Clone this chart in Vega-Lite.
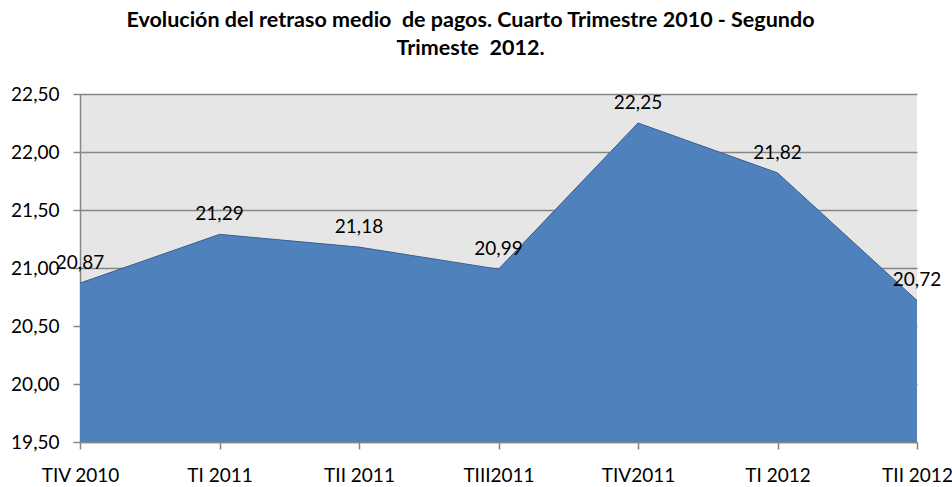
{
  "$schema": "https://vega.github.io/schema/vega-lite/v6.json",
  "width": 837,
  "height": 348,
  "autosize": "none",
  "padding": {"left": 80, "top": 94, "right": 35, "bottom": 45},
  "background": "white",
  "title": {
    "text": ["Evolución del retraso medio \u00a0de pagos. Cuarto Trimestre 2010 - Segundo", "Trimeste \u00a02012."],
    "font": "Lato",
    "fontSize": 21.5,
    "fontWeight": "bold",
    "color": "#000000",
    "anchor": "middle",
    "dx": -28,
    "offset": 26,
    "lineHeight": 28
  },
  "config": {
    "locale": {"number": {"decimal": ",", "thousands": ".", "grouping": [3], "currency": ["", " €"]}},
    "view": {"fill": "#e6e6e6", "stroke": null},
    "font": "Lato"
  },
  "data": {
    "values": [
      {"periodo": "TIV 2010", "retraso": 20.87},
      {"periodo": "TI 2011", "retraso": 21.29},
      {"periodo": "TII 2011", "retraso": 21.18},
      {"periodo": "TIII2011", "retraso": 20.99},
      {"periodo": "TIV2011", "retraso": 22.25},
      {"periodo": "TI 2012", "retraso": 21.82},
      {"periodo": "TII 2012", "retraso": 20.72}
    ]
  },
  "encoding": {
    "x": {
      "field": "periodo",
      "type": "ordinal",
      "sort": null,
      "scale": {"type": "point", "padding": 0},
      "axis": {
        "title": null,
        "labelAngle": 0,
        "labelFont": "Lato",
        "labelFontSize": 19,
        "labelColor": "#000000",
        "labelPadding": 17,
        "tickSize": 7,
        "tickColor": "#868686",
        "domainColor": "#868686",
        "domainWidth": 1.5,
        "tickWidth": 1.5,
        "grid": false
      }
    },
    "y": {
      "field": "retraso",
      "type": "quantitative",
      "scale": {"domain": [19.5, 22.5], "zero": false, "nice": false},
      "axis": {
        "title": null,
        "values": [19.5, 20, 20.5, 21, 21.5, 22, 22.5],
        "format": ".2f",
        "labelFont": "Lato",
        "labelFontSize": 19,
        "labelColor": "#000000",
        "labelPadding": 14,
        "tickSize": 7,
        "tickColor": "#868686",
        "tickWidth": 1.5,
        "domainColor": "#868686",
        "domainWidth": 1.5,
        "grid": true,
        "gridColor": "#868686",
        "gridWidth": 1.5
      }
    }
  },
  "layer": [
    {
      "mark": {"type": "area", "color": "#4f81bd", "opacity": 1, "line": {"color": "#3a5f8f", "strokeWidth": 1}},
      "encoding": {"y2": {"datum": 19.5}}
    },
    {
      "mark": {"type": "text", "dy": -20, "fontSize": 19, "font": "Lato", "color": "#000000"},
      "encoding": {"text": {"field": "retraso", "type": "quantitative", "format": ".2f"}}
    }
  ]
}
